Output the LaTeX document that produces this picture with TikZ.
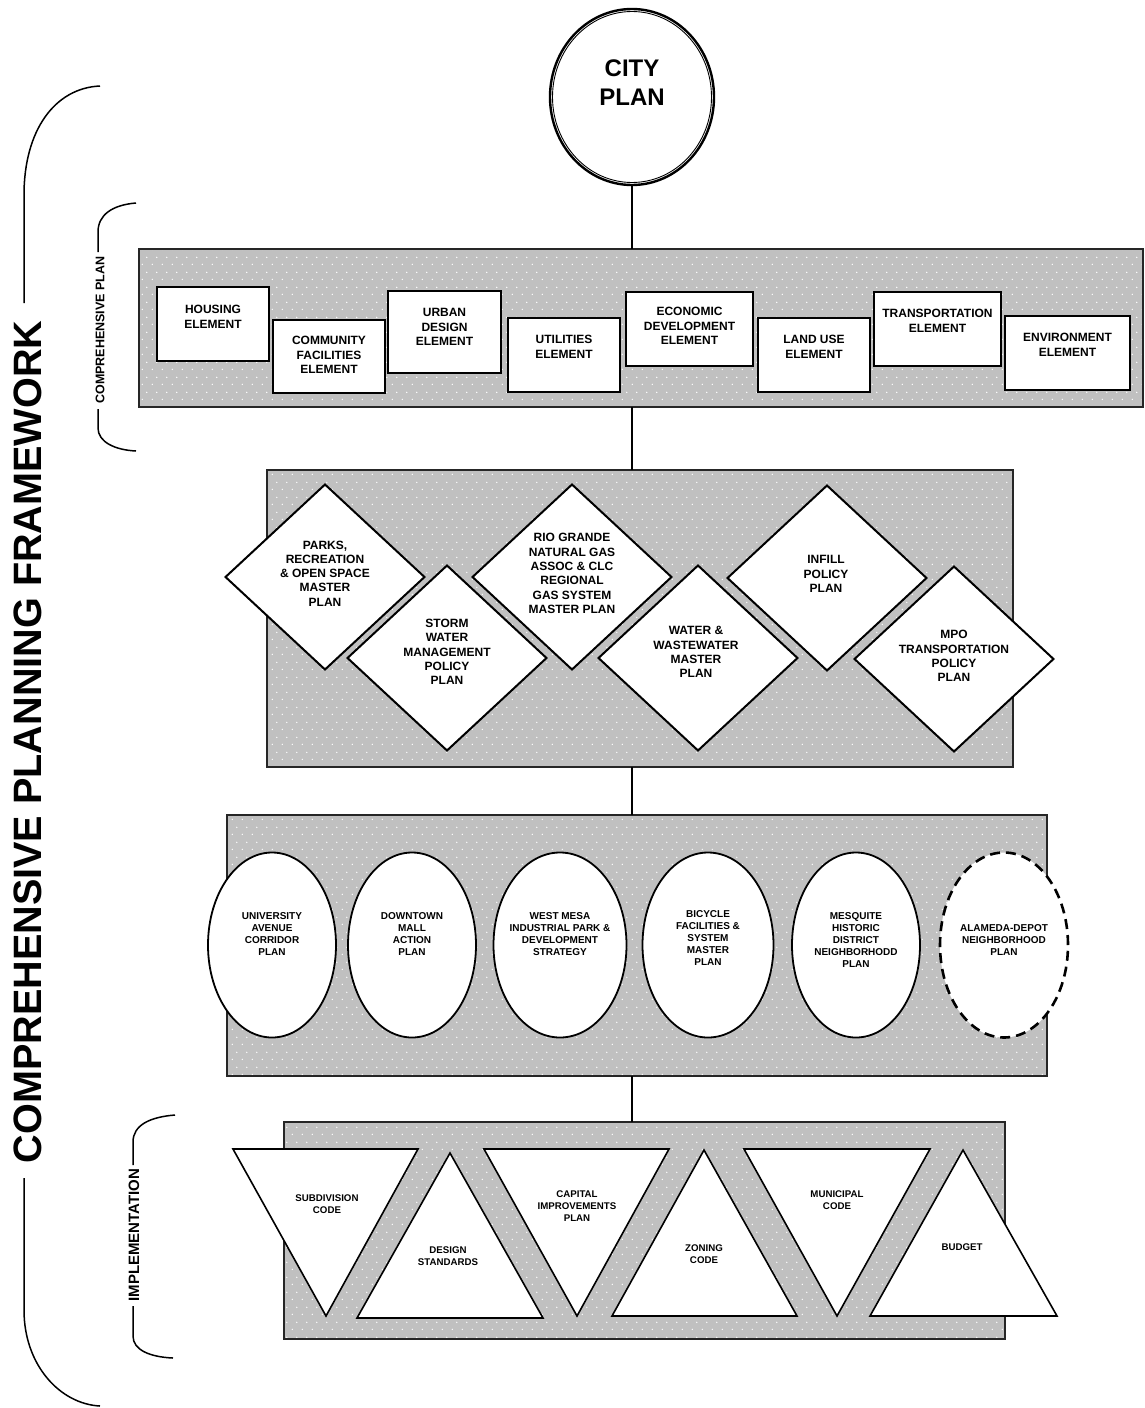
\documentclass[tikz,border=0pt]{standalone}
\usepackage{fontspec}
\setmainfont{Liberation Sans}
\usetikzlibrary{shapes.geometric,patterns}
\definecolor{panelgray}{RGB}{192,192,192}
\pgfdeclarepatternformonly{wdots}{\pgfqpoint{0pt}{0pt}}{\pgfqpoint{10pt}{15pt}}{\pgfqpoint{10pt}{15pt}}{%
  \pgfpathcircle{\pgfqpoint{2.5pt}{3.75pt}}{0.8pt}%
  \pgfpathcircle{\pgfqpoint{7.5pt}{11.25pt}}{0.8pt}%
  \pgfusepath{fill}}
\begin{document}
\begin{tikzpicture}[x=1pt,y=-1pt,
  panel/.style={rectangle, inner sep=0pt, outer sep=0pt, fill=panelgray,
    postaction={pattern=wdots, pattern color=white},
    postaction={draw=black!85, line width=2pt}},
  elbox/.style={rectangle, draw=black, line width=2pt, fill=white, inner sep=0pt, outer sep=0pt},
  oval/.style={ellipse, draw=black, line width=1.8pt, fill=white, inner sep=0pt, outer sep=0pt,
    minimum width=128pt, minimum height=185pt},
  dia/.style={draw=black, line width=2pt, fill=white, line join=miter},
  tri/.style={draw=black, line width=1.6pt, fill=white, line join=miter},
  conn/.style={draw=black, line width=2pt},
  brace/.style={draw=black, line width=1.5pt},
  eltext/.style={font=\fontsize{12}{14.5}\selectfont\bfseries, align=center, inner sep=0pt},
  diatext/.style={font=\fontsize{12}{14.3}\selectfont\bfseries, align=center, inner sep=0pt},
  ovtext/.style={font=\fontsize{10}{12}\selectfont\bfseries, align=center, inner sep=0pt},
  tritext/.style={font=\fontsize{9.7}{12}\selectfont\bfseries, align=center, inner sep=0pt},
  sidetext/.style={rotate=90, inner sep=0pt, font=\bfseries}
]
\useasboundingbox[fill=white] (0,0) rectangle (1144,1408);

% ---------- brackets ----------
\node[sidetext, font=\fontsize{39.6}{44}\selectfont\bfseries] (fw) at (27.5,742) {COMPREHENSIVE PLANNING FRAMEWORK};
\coordinate (fwtop) at (100,86);
\coordinate (fwbot) at (100,1406);
\draw[brace] (fwtop) .. controls (55,88) and (24,130) .. (24,195) -- (24,303);
\draw[brace] (24,1178) -- (24,1310) .. controls (24,1365) and (60,1404) .. (fwbot);

\node[sidetext, font=\fontsize{12.5}{14}\selectfont\bfseries] (cp) at (100,330) {COMPREHENSIVE PLAN};
\coordinate (cptop) at (136,203);
\coordinate (cpbot) at (136,451);
\draw[brace] (cptop) .. controls (112,205) and (98,215) .. (98,232) -- (98,252);
\draw[brace] (98,409) -- (98,428) .. controls (98,442) and (115,450) .. (cpbot);

\node[sidetext, font=\fontsize{15}{17}\selectfont\bfseries] (imp) at (134,1235) {IMPLEMENTATION};
\coordinate (imptop) at (175,1115);
\coordinate (impbot) at (173,1358);
\draw[brace] (imptop) .. controls (150,1117) and (133,1125) .. (133,1142) -- (133,1165);
\draw[brace] (133,1306) -- (133,1336) .. controls (133,1350) and (150,1357) .. (impbot);

% ---------- panels ----------
\node[panel, minimum width=1004pt, minimum height=158pt] (p1) at (641,328) {};
\node[panel, minimum width=746pt, minimum height=297pt] (p2) at (640,618.5) {};
\node[panel, minimum width=820pt, minimum height=261pt] (p3) at (637,945.5) {};
\node[panel, minimum width=721pt, minimum height=217pt] (p4) at (644.5,1230.5) {};

% ---------- city plan ----------
\node[ellipse, draw=black, line width=2.4pt, fill=white, minimum width=164pt, minimum height=176pt, inner sep=0pt, outer sep=0pt] (city) at (632,97) {};
\node[ellipse, draw=black, line width=0.9pt, minimum width=159pt, minimum height=171pt, inner sep=0pt] (cityin) at (632,97) {};
\node[font=\fontsize{24}{29}\selectfont\bfseries, align=center, inner sep=0pt] (citytxt) at (632,83) {CITY\\PLAN};

% ---------- connectors ----------
\draw[conn] (city.south) -- (city.south |- p1.north);
\draw[conn] (p1.south -| city.south) -- (p2.north -| city.south);
\draw[conn] (p2.south -| city.south) -- (p3.north -| city.south);
\draw[conn] (p3.south -| city.south) -- (p4.north -| city.south);

% ---------- comprehensive plan elements ----------
\node[elbox, minimum width=112pt, minimum height=74pt] (housing) at (213,324) {};
\node[eltext] (housingt) at (213,317) {HOUSING\\ELEMENT};
\node[elbox, minimum width=112pt, minimum height=73pt] (community) at (329,356.5) {};
\node[eltext] (communityt) at (329,355) {COMMUNITY\\FACILITIES\\ELEMENT};
\node[elbox, minimum width=113pt, minimum height=82pt] (urban) at (444.5,332) {};
\node[eltext] (urbant) at (444.5,327) {URBAN\\DESIGN\\ELEMENT};
\node[elbox, minimum width=112pt, minimum height=74pt] (utilities) at (564,355) {};
\node[eltext] (utilitiest) at (564,347) {UTILITIES\\ELEMENT};
\node[elbox, minimum width=127pt, minimum height=74pt] (economic) at (689.5,329) {};
\node[eltext] (economict) at (689.5,326) {ECONOMIC\\DEVELOPMENT\\ELEMENT};
\node[elbox, minimum width=112pt, minimum height=74pt] (landuse) at (814,355) {};
\node[eltext] (landuset) at (814,347) {LAND USE\\ELEMENT};
\node[elbox, minimum width=127pt, minimum height=74pt] (transport) at (937.5,329) {};
\node[eltext] (transportt) at (937.5,321) {TRANSPORTATION\\ELEMENT};
\node[elbox, minimum width=125pt, minimum height=74pt] (environment) at (1067.5,353) {};
\node[eltext] (environmentt) at (1067.5,345) {ENVIRONMENT\\ELEMENT};

% ---------- diamonds ----------
\newcommand\dshape[2]{\draw[dia] (#1-99.5,#2) -- (#1,#2-92.5) -- (#1+99.5,#2) -- (#1,#2+92.5) -- cycle;}
\dshape{325}{577}
\node[diatext] (parks) at (325,573.5) {PARKS,\\RECREATION\\\& OPEN SPACE\\MASTER\\PLAN};
\dshape{447}{658}
\node[diatext] (storm) at (447,652) {STORM\\WATER\\MANAGEMENT\\POLICY\\PLAN};
\dshape{572}{577}
\node[diatext] (rio) at (572,573.5) {RIO GRANDE\\NATURAL GAS\\ASSOC \& CLC\\REGIONAL\\GAS SYSTEM\\MASTER PLAN};
\dshape{698}{658}
\node[diatext] (water) at (696,652) {WATER \&\\WASTEWATER\\MASTER\\PLAN};
\dshape{827}{578}
\node[diatext] (infill) at (826,574) {INFILL\\POLICY\\PLAN};
\dshape{954}{659}
\node[diatext] (mpo) at (954,656) {MPO\\TRANSPORTATION\\POLICY\\PLAN};

% ---------- ovals ----------
\node[oval] (univ) at (272,945) {};
\node[ovtext] (univt) at (272,934) {UNIVERSITY\\AVENUE\\CORRIDOR\\PLAN};
\node[oval] (down) at (412,945) {};
\node[ovtext] (downt) at (412,934) {DOWNTOWN\\MALL\\ACTION\\PLAN};
\node[oval, minimum width=133pt] (west) at (560,945) {};
\node[ovtext] (westt) at (560,934) {WEST MESA\\INDUSTRIAL PARK \&\\DEVELOPMENT\\STRATEGY};
\node[oval, minimum width=131pt] (bike) at (708,945) {};
\node[ovtext] (biket) at (708,938) {BICYCLE\\FACILITIES \&\\SYSTEM\\MASTER\\PLAN};
\node[oval] (mesq) at (856,945) {};
\node[ovtext] (mesqt) at (856,940) {MESQUITE\\HISTORIC\\DISTRICT\\NEIGHBORHODD\\PLAN};
\node[oval, line width=2.6pt, dash pattern=on 10pt off 6pt] (alam) at (1004,945) {};
\node[ovtext] (alamt) at (1004,940) {ALAMEDA-DEPOT\\NEIGHBORHOOD\\PLAN};

% ---------- triangles ----------
\draw[tri] (233,1149) -- (418,1149) -- (326,1316) -- cycle;
\node[tritext] (subdiv) at (327,1204) {SUBDIVISION\\CODE};
\draw[tri] (450,1153) -- (543,1318) -- (357,1318) -- cycle;
\node[tritext] (design) at (448,1256) {DESIGN\\STANDARDS};
\draw[tri] (484,1149) -- (669,1149) -- (577,1316) -- cycle;
\node[tritext] (capital) at (577,1206) {CAPITAL\\IMPROVEMENTS\\PLAN};
\draw[tri] (704,1150) -- (797,1316) -- (612,1316) -- cycle;
\node[tritext] (zoning) at (704,1254) {ZONING\\CODE};
\draw[tri] (744,1149) -- (930,1149) -- (837,1316) -- cycle;
\node[tritext] (municipal) at (837,1200) {MUNICIPAL\\CODE};
\draw[tri] (963,1150) -- (1057,1316) -- (870,1316) -- cycle;
\node[tritext] (budget) at (962,1247) {BUDGET};
\end{tikzpicture}
\end{document}
